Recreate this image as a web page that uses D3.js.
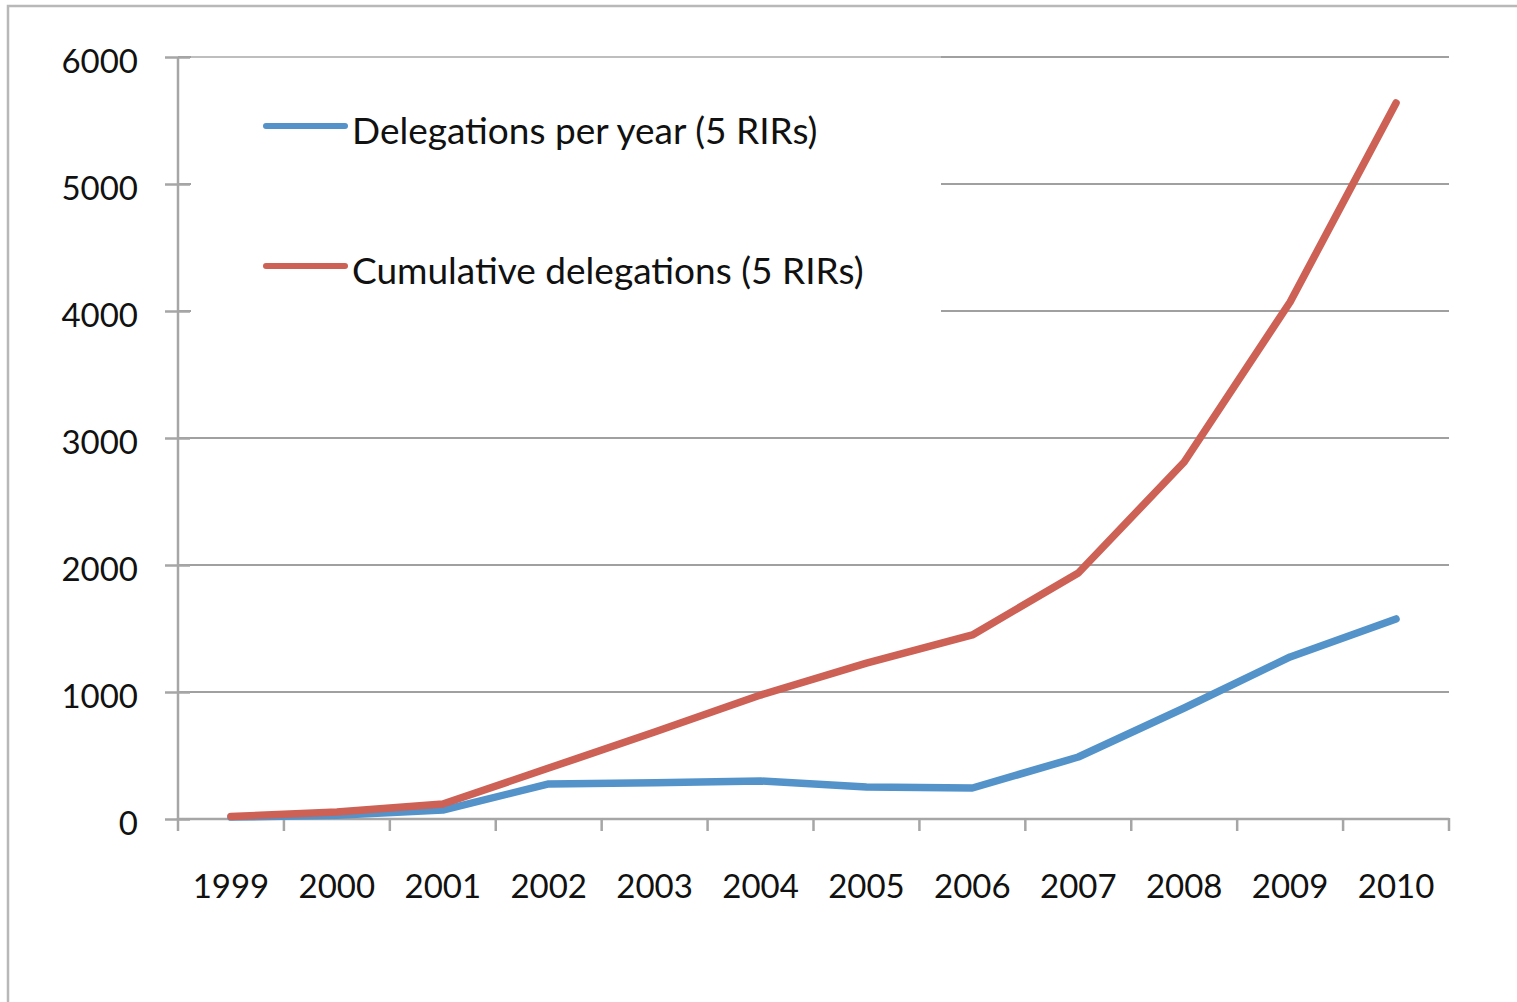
<!DOCTYPE html>
<html><head><meta charset="utf-8">
<script src="https://cdn.jsdelivr.net/npm/d3@7"></script>
<style>body{margin:0;background:#fff;}svg{display:block;}</style>
</head><body>
<svg id="c" width="1517" height="1002"></svg>
<script>
const years = ["1999","2000","2001","2002","2003","2004","2005","2006","2007","2008","2009","2010"];
const perYear = [15, 30, 70, 276, 285, 299, 252, 244, 488, 874, 1276, 1575];
const cumulative = [20, 55, 118, 401, 685, 976, 1228, 1449, 1937, 2811, 4071, 5638];
const yTicks = [0, 1000, 2000, 3000, 4000, 5000, 6000];
const seriesNames = ["Delegations per year (5 RIRs)", "Cumulative delegations (5 RIRs)"];
const colors = ["#5393CA", "#CD6155"];

(function () {
const svg = d3.select("#c");
const font = "Lato, 'Open Sans', sans-serif";
const pLeft = 178, pRight = 1449, pTop = 57, pBottom = 819;

// outer border
svg.append("path").attr("d", `M8,1002 V6 H1517`).attr("fill","none")
  .attr("stroke","#b8b8b8").attr("stroke-width",2.5);

const x = d3.scaleBand().domain(years).range([pLeft, pRight]).padding(0);
const y = d3.scaleLinear().domain([0, 6000]).range([pBottom, pTop]);
const cx = d => x(d) + x.bandwidth()/2;

// gridlines
svg.append("g").selectAll("line").data(yTicks.filter(t => t > 0)).join("line")
  .attr("x1", pLeft).attr("x2", pRight).attr("y1", d => y(d)).attr("y2", d => y(d))
  .attr("stroke", "#a0a0a0").attr("stroke-width", 2);

// legend background
svg.append("rect").attr("x", 191).attr("y", 58).attr("width", 750).attr("height", 262).attr("fill", "#fff");
svg.append("line").attr("x1", 191).attr("x2", 941).attr("y1", 57).attr("y2", 57)
  .attr("stroke", "#dcdcdc").attr("stroke-width", 1);

// y axis
const ya = svg.append("g").attr("transform", `translate(${pLeft},0)`)
  .call(d3.axisLeft(y).tickValues(yTicks).tickSize(13).tickPadding(27).tickFormat(d3.format("d")));
ya.select(".domain").attr("stroke", "#a6a6a6").attr("stroke-width", 2.5).attr("d", `M0,${pTop}V${pBottom}`);
ya.selectAll(".tick line").attr("x1", 12).attr("x2", -13).attr("stroke", "#a6a6a6").attr("stroke-width", 2.5);
ya.selectAll(".tick text").attr("font-family", font).attr("font-size", 33).attr("fill", "#111").attr("dy", "0.47em");

// x axis
const xa = svg.append("g").attr("transform", `translate(0,${pBottom})`)
  .call(d3.axisBottom(x).tickSize(0).tickPadding(56));
xa.select(".domain").attr("stroke", "#a6a6a6").attr("stroke-width", 2.5).attr("d", `M${pLeft},0H${pRight}`);
xa.selectAll(".tick text").attr("font-family", font).attr("font-size", 33).attr("fill", "#111");
const bounds = years.map(d => x(d)).concat([x.range()[1]]);
xa.append("g").selectAll("line").data(bounds).join("line")
  .attr("x1", d => d).attr("x2", d => d).attr("y1", -1).attr("y2", 12)
  .attr("stroke", "#a6a6a6").attr("stroke-width", 2.5);

// lines
const line = d3.line().x((d, i) => cx(years[i])).y(d => y(d));
[perYear, cumulative].forEach((s, i) => {
  svg.append("path").datum(s).attr("d", line).attr("fill", "none")
    .attr("stroke", colors[i]).attr("stroke-width", 7.5)
    .attr("stroke-linecap", "round").attr("stroke-linejoin", "round");
});

// legend
const lg = svg.append("g");
const ly = [126, 266];
seriesNames.forEach((n, i) => {
  lg.append("line").attr("x1", 266).attr("x2", 345).attr("y1", ly[i]).attr("y2", ly[i])
    .attr("stroke", colors[i]).attr("stroke-width", 6).attr("stroke-linecap", "round");
  lg.append("text").attr("x", 352).attr("y", ly[i] + 5).attr("dy", "0.35em")
    .attr("font-family", font).attr("font-size", 37).attr("fill", "#111").text(n);
});
})();
</script>
</body></html>
